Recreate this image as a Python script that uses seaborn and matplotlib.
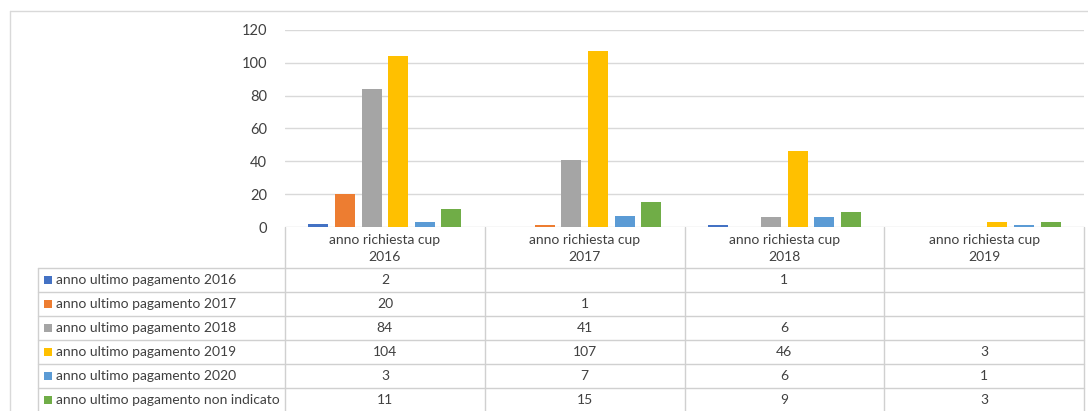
import matplotlib
matplotlib.use('Agg')
import matplotlib.pyplot as plt
import seaborn as sns
import pandas as pd
import numpy as np

# Dati del grafico
categories = ['anno richiesta cup\n2016', 'anno richiesta cup\n2017',
              'anno richiesta cup\n2018', 'anno richiesta cup\n2019']
series = ['anno ultimo pagamento 2016', 'anno ultimo pagamento 2017',
          'anno ultimo pagamento 2018', 'anno ultimo pagamento 2019',
          'anno ultimo pagamento 2020', 'anno ultimo pagamento non indicato']
pag_2016 = [2, np.nan, 1, np.nan]
pag_2017 = [20, 1, np.nan, np.nan]
pag_2018 = [84, 41, 6, np.nan]
pag_2019 = [104, 107, 46, 3]
pag_2020 = [3, 7, 6, 1]
pag_non_ind = [11, 15, 9, 3]
colors = ['#4472C4', '#ED7D31', '#A5A5A5', '#FFC000', '#5B9BD5', '#70AD47']

values = [pag_2016, pag_2017, pag_2018, pag_2019, pag_2020, pag_non_ind]

rows = []
for s, vals in zip(series, values):
    for c, v in zip(categories, vals):
        rows.append({'cat': c, 'serie': s, 'val': v})
df = pd.DataFrame(rows)

sns.set_style('white')
plt.rcParams['font.family'] = ['Lato', 'DejaVu Sans']
text_col = '#404040'
grid_col = '#D9D9D9'
fs = 10

W, H = 1088, 411
fig = plt.figure(figsize=(W / 100, H / 100), dpi=100)

# area del grafico in pixel
left, right, top, bottom = 285, 1084, 30, 227
ax = fig.add_axes([left / W, 1 - bottom / H, (right - left) / W, (bottom - top) / H])

sns.barplot(data=df.dropna(), x='cat', y='val', hue='serie', order=categories,
            hue_order=series, palette=colors, errorbar=None, legend=False,
            saturation=1, ax=ax)

for p in ax.patches:
    w = p.get_width()
    nw = w * 0.75
    p.set_x(p.get_x() + (w - nw) / 2)
    p.set_width(nw)
    p.set_edgecolor('none')

ax.set_ylim(0, 120)
ax.set_xlim(-0.5, 3.5)
ax.set_yticks(range(0, 121, 20))
ax.yaxis.grid(True, color=grid_col, linewidth=1)
ax.set_axisbelow(True)
ax.tick_params(axis='y', length=0, pad=13, labelsize=10.5, labelcolor=text_col)
ax.set_xticks([])
ax.set_xlabel('')
ax.set_ylabel('')
for sp in ax.spines.values():
    sp.set_visible(False)

# tabella dati disegnata in pixel
ov = fig.add_axes([0, 0, 1, 1], zorder=-1)
ov.set_xlim(0, W)
ov.set_ylim(H, 0)
ov.axis('off')

# cornice esterna
ov.plot([10, W], [11, 11], color=grid_col, lw=1)
ov.plot([10, 10], [11, H], color=grid_col, lw=1)

tab_left = 38
col_w = (right - left) / len(categories)
head_top, head_bot = bottom, 268
row_h = 24
tab_col = '#D0D0D0'

for i in range(len(categories) + 1):
    x = left + i * col_w
    ov.plot([x, x], [head_top, H], color=tab_col, lw=1)
ov.plot([tab_left, tab_left], [head_bot, H], color=tab_col, lw=1)
for j in range(len(series) + 1):
    y = head_bot + j * row_h
    ov.plot([tab_left, right], [y, y], color=tab_col, lw=1)

for i, c in enumerate(categories):
    ov.text(left + (i + 0.5) * col_w, (head_top + head_bot) / 2 + 1, c,
            ha='center', va='center', fontsize=fs, color=text_col,
            linespacing=1.5)

for j, (s, vals) in enumerate(zip(series, values)):
    yc = head_bot + (j + 0.5) * row_h
    ov.add_patch(plt.Rectangle((44, yc - 4), 8, 8, color=colors[j], lw=0))
    ov.text(56, yc, s, ha='left', va='center', fontsize=fs, color=text_col)
    for i, v in enumerate(vals):
        if not np.isnan(v):
            ov.text(left + (i + 0.5) * col_w, yc, f'{int(v)}', ha='center',
                    va='center', fontsize=fs, color=text_col)

fig.savefig('out.png', dpi=100)
